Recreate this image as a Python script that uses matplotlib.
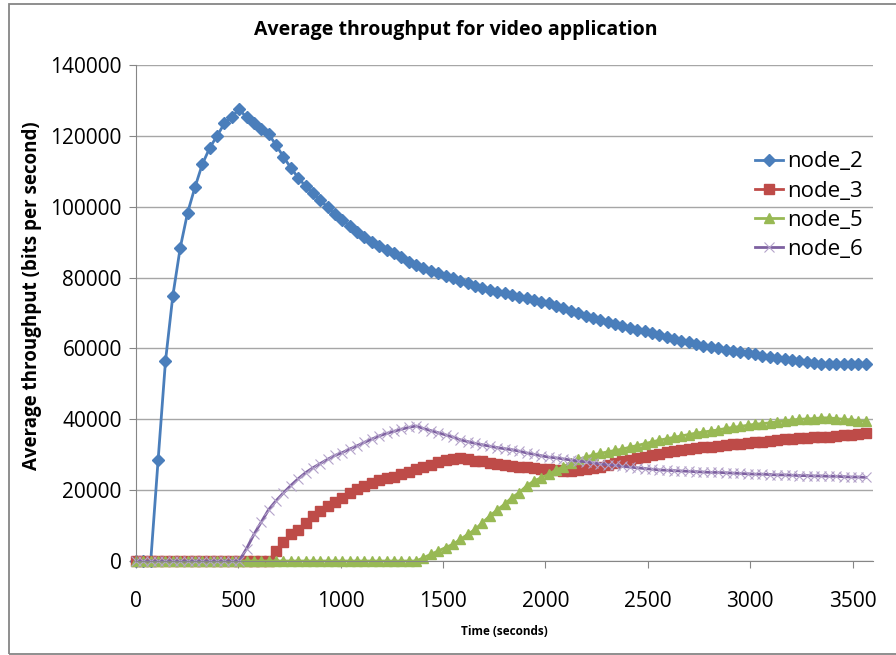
import matplotlib.pyplot as plt
from matplotlib.patches import Rectangle

# sample times (seconds), one every 36 s
time = list(range(0, 3600, 36))

node_2 = [0, 0, 0, 28500, 56400, 74900, 88400, 98300, 105500, 112000,
          116600, 120000, 123500, 125400, 127500, 125200, 123500, 122000, 120500, 117400,
          114100, 111000, 108200, 105800, 103800, 101900, 99800, 97900, 96200, 94600,
          92900, 91500, 90100, 88900, 87800, 86800, 85700, 84500, 83500, 82800,
          81900, 81200, 80400, 79800, 79000, 78400, 77700, 77000, 76500, 76000,
          75600, 75100, 74600, 74100, 73700, 73200, 72700, 72100, 71300, 70700,
          69900, 69200, 68500, 68000, 67400, 66900, 66400, 65800, 65300, 64800,
          64300, 63800, 63300, 62700, 62200, 61700, 61200, 60700, 60300, 60000,
          59600, 59300, 58900, 58600, 58300, 58000, 57600, 57300, 57000, 56700,
          56400, 56100, 55900, 55700, 55600, 55600, 55500, 55600, 55500, 55600]

node_3 = [0, 0, 0, 0, 0, 0, 0, 0, 0, 0,
          0, 0, 0, 0, 0, 0, 0, 0, 0, 2800,
          5400, 7500, 8800, 10800, 12700, 14100, 15500, 16700, 17900, 19100,
          20200, 21200, 22100, 22800, 23300, 23800, 24500, 25200, 25900, 26600,
          27200, 28000, 28500, 28800, 29100, 28800, 28300, 28100, 27800, 27300,
          27000, 26800, 26500, 26500, 26300, 26000, 26000, 25600, 25500, 25500,
          25600, 25900, 26200, 26600, 27100, 27600, 28100, 28600, 29000, 29400,
          29900, 30300, 30700, 31000, 31300, 31600, 31900, 32100, 32300, 32500,
          32700, 32900, 33100, 33300, 33500, 33700, 33900, 34100, 34300, 34500,
          34700, 34800, 34900, 35000, 35100, 35300, 35500, 35700, 35800, 36000]

node_5 = [0, 0, 0, 0, 0, 0, 0, 0, 0, 0,
          0, 0, 0, 0, 0, 0, 0, 0, 0, 0,
          0, 0, 0, 0, 0, 0, 0, 0, 0, 0,
          0, 0, 0, 0, 0, 0, 0, 0, 0, 900,
          1900, 2800, 3800, 4700, 6100, 7500, 8900, 10800, 12700, 14400,
          16000, 17900, 19300, 21200, 22600, 23500, 24500, 25700, 26600, 27800,
          28700, 29300, 29900, 30400, 30800, 31200, 31600, 32100, 32600, 33100,
          33600, 34100, 34500, 34900, 35300, 35700, 36100, 36400, 36700, 37000,
          37400, 37700, 38000, 38300, 38600, 38800, 39000, 39300, 39500, 39800,
          40000, 40100, 40200, 40400, 40400, 40200, 40000, 39800, 39600, 39400]

node_6 = [0, 0, 0, 0, 0, 0, 0, 0, 0, 0,
          0, 0, 0, 0, 0, 3500, 7500, 11000, 14500, 17000,
          19200, 21300, 23200, 24900, 26300, 27500, 28700, 29800, 30600, 31600,
          32500, 33500, 34400, 35300, 36000, 36600, 37200, 37700, 38100, 37400,
          36800, 36200, 35600, 35000, 34200, 33700, 33200, 32800, 32400, 32000,
          31700, 31400, 31000, 30500, 30100, 29700, 29300, 29100, 28800, 28500,
          28200, 28000, 27700, 27400, 27200, 27000, 26700, 26500, 26300, 26100,
          25900, 25700, 25600, 25500, 25400, 25300, 25200, 25100, 25000, 25000,
          24900, 24800, 24700, 24600, 24500, 24500, 24400, 24300, 24300, 24200,
          24100, 24100, 24000, 24000, 23900, 23900, 23800, 23700, 23700, 23600]

plt.rcParams['font.family'] = ['Open Sans', 'DejaVu Sans']

fig = plt.figure(figsize=(8.96, 6.55), dpi=100)
# chart border (right edge runs off the picture)
fig.patches.append(Rectangle((8.5 / 896, 1 - 654 / 655), 900 / 896, 650 / 655,
                             transform=fig.transFigure, fill=False,
                             edgecolor='#868686', linewidth=1.3))
ax = fig.add_axes([136 / 896, 1 - 561 / 655, (873 - 136) / 896, (561 - 65) / 655])

ax.plot(time, node_2, color='#4A7EBB', lw=2, marker='D', markersize=6, clip_on=False, label='node_2')
ax.plot(time, node_3, color='#BE4B48', lw=2, marker='s', markersize=6.5, clip_on=False, label='node_3')
ax.plot(time, node_5, color='#98B954', lw=2, marker='^', markersize=7, clip_on=False, label='node_5')
ax.plot(time, node_6, color='#7D60A0', lw=2, marker='x', markersize=7, markeredgewidth=0.8,
        markeredgecolor='#B4A3CA', clip_on=False, label='node_6')

ax.set_xlim(0, 3600)
ax.set_ylim(0, 140000)
ax.set_xticks(range(0, 3600, 500))
ax.set_yticks(range(0, 140001, 20000))
ax.grid(axis='y', color='#A6A6A6', lw=1)
ax.set_axisbelow(True)
for s in ['top', 'right']:
    ax.spines[s].set_visible(False)
for s in ['left', 'bottom']:
    ax.spines[s].set_color('#868686')
ax.tick_params(colors='#868686', labelcolor='black', labelsize=15, length=5.25, direction='out')
ax.tick_params(axis='y', pad=5)
ax.tick_params(axis='x', pad=16)

fig.text(456 / 896, 1 - 30 / 655, 'Average throughput for video application',
         fontsize=14, fontweight='bold', ha='center', va='center')
ax.set_ylabel('Average throughput (bits per second)', fontsize=13.5, fontweight='bold')
ax.yaxis.set_label_coords(-0.128, 0.534)
ax.set_xlabel('Time (seconds)', fontsize=8.5, fontweight='bold', va='center')
ax.xaxis.set_label_coords(0.5, -0.143)

ax.legend(loc='upper left', bbox_to_anchor=(0.84, 0.826), frameon=False, fontsize=16,
          handlelength=1.27, handletextpad=0.15, labelspacing=0.37,
          borderaxespad=0, borderpad=0)

fig.savefig('out.png', dpi=100)
